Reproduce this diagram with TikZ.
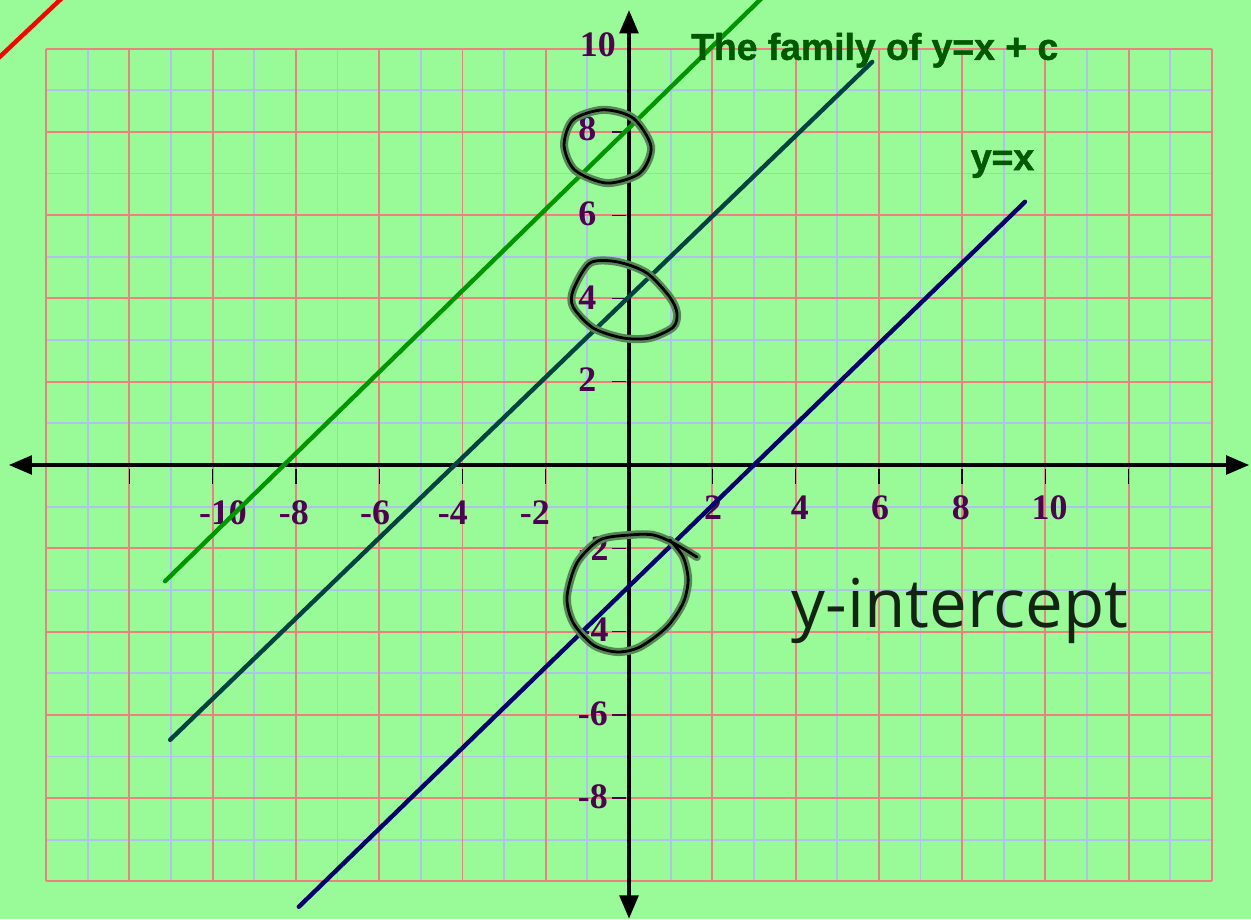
\documentclass[tikz,border=0pt]{standalone}
\usepackage{fontspec}
\setmainfont{Liberation Serif}
\newfontfamily\famsans[FakeBold=1.3]{Liberation Sans Bold}
\newfontfamily\famhand{Open Sans}
\usepackage{xcolor}
\definecolor{fambg}{RGB}{152,251,152}
\definecolor{fammajor}{RGB}{238,128,128}
\definecolor{famminor}{RGB}{172,196,236}
\definecolor{famgreen}{RGB}{0,150,0}
\definecolor{famteal}{RGB}{0,66,66}
\definecolor{famnavy}{RGB}{0,0,110}
\definecolor{famtitle}{RGB}{0,88,0}
\definecolor{famlabel}{RGB}{80,0,80}
\definecolor{famhalo}{RGB}{85,135,85}
\definecolor{famhandtext}{RGB}{20,35,20}
\usetikzlibrary{arrows.meta}

\begin{document}
\begin{tikzpicture}[
  famgrid/.style={line width=1.3pt},
  famaxis/.style={line width=3.1pt,
    {Triangle[length=16pt,width=12.5pt]}-{Triangle[length=16pt,width=12.5pt]}},
  famtick/.style={line width=0.9pt},
  famnum/.style={font=\bfseries\fontsize{24.5}{26}\selectfont,text=famlabel,inner sep=0pt},
  famline/.style={line width=3pt,line cap=round},
  famhead/.style={font=\famsans\fontsize{25.5}{28}\selectfont,text=famtitle,
    inner sep=0pt,anchor=base},
  famink/.style={draw=black,line width=1.9pt,line cap=round,line join=round,
    preaction={draw=famhalo,line width=5.5pt,line cap=round,line join=round}}
]
  % page and paper
  \useasboundingbox (-15.106,-10.903) rectangle (14.937,11.167);
  \fill[fambg] (-15.106,-10.903) rectangle (14.937,11.167);
  \clip (-15.106,-10.903) rectangle (14.937,11.167);
  \draw[famgrid,famminor] (-14,-10) grid (14,10);
  \draw[famgrid,fammajor,step=2] (-14,-10) grid (14,10);

  % axes
  \coordinate (xl) at (-14.9,0);
  \coordinate (xr) at (14.9,0);
  \coordinate (yb) at (0,-10.9);
  \coordinate (yt) at (0,10.93);
  \draw[famaxis] (xl) -- (xr);
  \draw[famaxis] (yb) -- (yt);
  \foreach \x in {-12,-10,...,-2,2,4,...,12}
    \draw[famtick] (\x,-0.1) -- (\x,-0.45);
  \foreach \y in {-8,-6,...,-2,2,4,...,8}
    \draw[famtick,famlabel] (-0.4,\y) -- (-0.08,\y);

  % x labels
  \node[famnum] (xm10) at (-9.75,-1.15) {-10};
  \node[famnum] (xm8) at (-8.05,-1.15) {-8};
  \node[famnum] (xm6) at (-6.1,-1.15) {-6};
  \node[famnum] (xm4) at (-4.23,-1.15) {-4};
  \node[famnum] (xm2) at (-2.26,-1.15) {-2};
  \node[famnum] (xp2) at (2.02,-1.03) {2};
  \node[famnum] (xp4) at (4.1,-1.03) {4};
  \node[famnum] (xp6) at (6.03,-1.03) {6};
  \node[famnum] (xp8) at (7.97,-1.03) {8};
  \node[famnum] (xp10) at (10.1,-1.03) {10};
  % y labels
  \node[famnum] (yp10) at (-0.75,10.1) {10};
  \node[famnum] (yp8) at (-1.0,8.08) {8};
  \node[famnum] (yp6) at (-1.0,6.03) {6};
  \node[famnum] (yp4) at (-1.0,4.02) {4};
  \node[famnum] (yp2) at (-1.0,2.05) {2};
  \node[famnum] (ym2) at (-0.85,-2.0) {-2};
  \node[famnum] (ym4) at (-0.85,-3.96) {-4};
  \node[famnum] (ym6) at (-0.87,-5.97) {-6};
  \node[famnum] (ym8) at (-0.87,-7.97) {-8};

  % the family of lines
  \coordinate (ra) at (-15.41,9.52);
  \coordinate (rb) at (-13.41,11.41);
  \coordinate (ga) at (-11.14,-2.79);
  \coordinate (gb) at (3.35,11.37);
  \coordinate (ta) at (-11.02,-6.60);
  \coordinate (tb) at (5.84,9.68);
  \coordinate (na) at (-7.93,-10.61);
  \coordinate (nb) at (9.51,6.32);
  \draw[famline,red] (ra) -- (rb);
  \draw[famline,famgreen] (ga) -- (gb);
  \draw[famline,famteal] (ta) -- (tb);
  \draw[famline,famnavy] (na) -- (nb);

  \node[famhead] (title) at (5.9,9.73) {The family of y=x + c};
  \node[famhead] (yx) at (8.97,7.08) {y=x};

  % hand-drawn rings round the intercepts
  \draw[famink] plot[smooth cycle] coordinates {(-0.62,8.53) (0.10,8.33) (0.53,7.64)
    (0.26,7.01) (-0.53,6.77) (-1.30,7.08) (-1.56,7.68) (-1.34,8.29)};
  \draw[famink] plot[smooth cycle] coordinates {(-1.34,4.20) (-0.94,4.85) (-0.29,4.88)
    (0.43,4.61) (0.98,4.03) (1.15,3.65) (1.06,3.31) (0.50,3.05) (-0.14,3.05)
    (-0.86,3.29) (-1.34,3.79)};
  \draw[famink] plot[smooth] coordinates {(1.63,-2.21) (1.06,-1.87) (0.58,-1.68)
    (0.02,-1.68) (-0.70,-1.80) (-1.25,-2.35) (-1.49,-3.17) (-1.34,-3.79) (-0.86,-4.32)
    (-0.29,-4.49) (0.26,-4.37) (0.91,-3.89) (1.30,-3.31) (1.42,-2.76) (1.30,-2.21)
    (0.98,-1.80)};
  \node[font=\famhand\fontsize{46}{50}\selectfont,text=famhandtext,anchor=base,
    inner sep=0pt] (note) at (7.95,-3.91) {y-intercept};
\end{tikzpicture}
\end{document}
